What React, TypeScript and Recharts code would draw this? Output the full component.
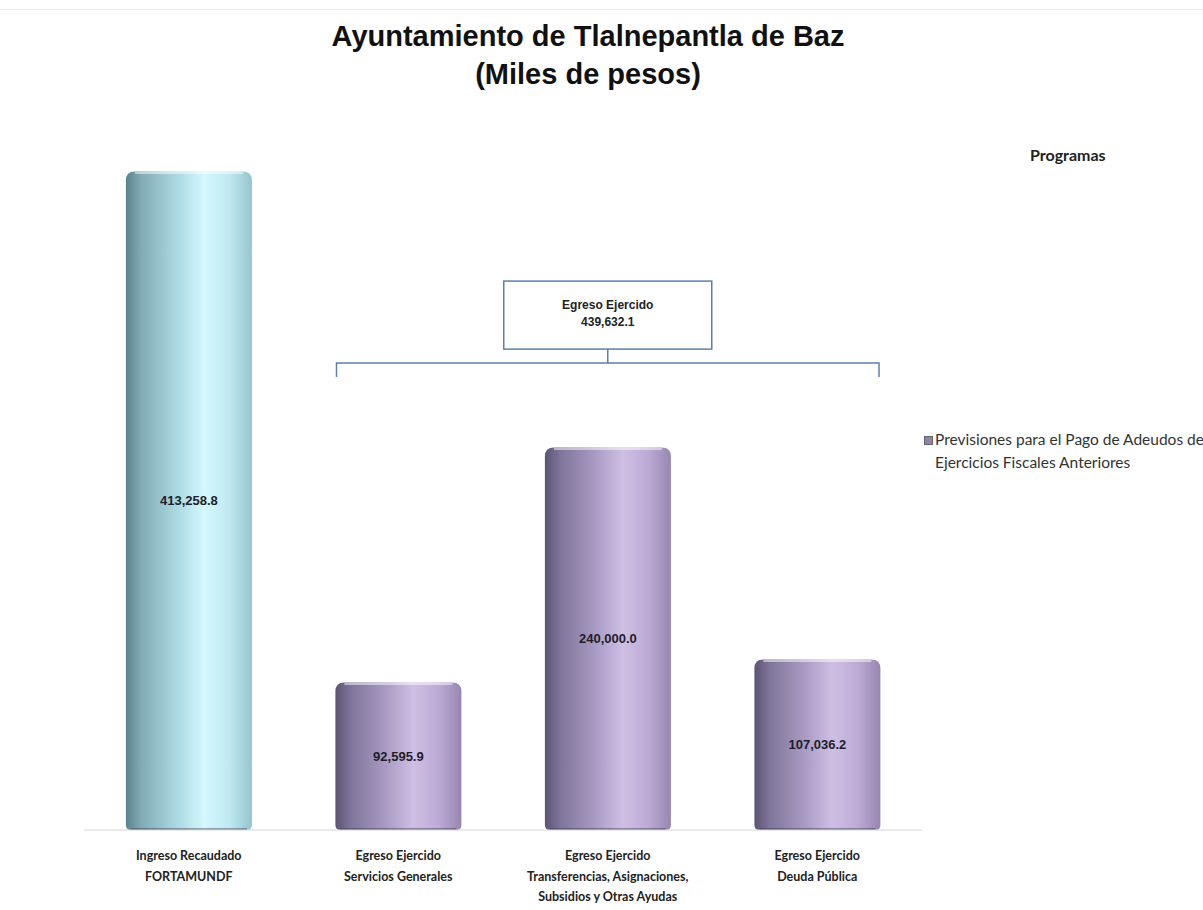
import { BarChart, Bar, XAxis, YAxis, Cell, LabelList, Legend, ReferenceArea } from "recharts";

const categories = [
  "Ingreso Recaudado\nFORTAMUNDF",
  "Egreso Ejercido\nServicios Generales",
  "Egreso Ejercido\nTransferencias, Asignaciones,\nSubsidios y Otras Ayudas",
  "Egreso Ejercido\nDeuda Pública",
];
const values = [413258.8, 92595.9, 240000.0, 107036.2];
const kinds = ["ingreso", "egreso", "egreso", "egreso"];

const seriesName = "Previsiones para el Pago de Adeudos de Ejercicios Fiscales Anteriores";
const legendTitle = "Programas";
const bracketTitle = "Egreso Ejercido";

const data = categories.map((name, i) => ({ name, value: values[i], kind: kinds[i] }));
const egresoTotal = values.filter((_, i) => kinds[i] === "egreso").reduce((a, b) => a + b, 0);

const fmt = (v: number) =>
  v.toLocaleString("en-US", { minimumFractionDigits: 1, maximumFractionDigits: 1 });

const narrow = "'Liberation Sans Narrow', 'Arial Narrow', 'Liberation Sans', Arial, sans-serif";

function Cylinder(props: any) {
  const { x, y, width, height, fill } = props;
  if (!height || height <= 0) return null;
  const r = 9;
  const rb = 5;
  const d = `M${x},${y + r} Q${x},${y} ${x + r},${y} L${x + width - r},${y} Q${x + width},${y} ${x + width},${y + r}
    L${x + width},${y + height - rb} Q${x + width},${y + height} ${x + width - rb},${y + height}
    L${x + rb},${y + height} Q${x},${y + height} ${x},${y + height - rb} Z`;
  return (
    <g>
      <path d={d} fill={fill} />
      <path
        d={`M${x + r},${y + 1.5} L${x + width - r},${y + 1.5}`}
        stroke="#ffffff"
        strokeOpacity={0.5}
        strokeWidth={2}
      />
      <path
        d={`M${x + rb},${y + height - 1} L${x + width - rb},${y + height - 1}`}
        stroke="#3c3850"
        strokeOpacity={0.45}
        strokeWidth={2}
      />
    </g>
  );
}

function MultiTick(props: any) {
  const { x, y, payload } = props;
  const lines = String(payload.value).split("\n");
  return (
    <text
      x={x}
      y={y}
      textAnchor="middle"
      fill="#222"
      fontFamily="Lato, 'Open Sans', sans-serif"
      fontWeight={700}
      fontSize={12.5}
    >
      {lines.map((l, i) => (
        <tspan key={i} x={x} dy={i === 0 ? 22 : 20.5}>
          {l}
        </tspan>
      ))}
    </text>
  );
}

function Bracket(props: any) {
  const { x, y, width } = props;
  const inset = 43;
  const left = x + inset;
  const right = x + width - inset;
  const mid = (left + right) / 2;
  const boxW = 208;
  const boxH = 68;
  const lineY = y + boxH + 14;
  const stroke = "#5b7fae";
  return (
    <g>
      <rect x={mid - boxW / 2} y={y} width={boxW} height={boxH} fill="#ffffff" stroke={stroke} strokeWidth={1.5} />
      <text x={mid} y={y + 28} textAnchor="middle" fontFamily={narrow} fontWeight={700} fontSize={12} fill="#222">
        {bracketTitle}
      </text>
      <text x={mid} y={y + 45} textAnchor="middle" fontFamily={narrow} fontWeight={700} fontSize={12} fill="#222">
        {fmt(egresoTotal)}
      </text>
      <path
        d={`M${mid},${y + boxH} L${mid},${lineY} M${left},${lineY + 14} L${left},${lineY} L${right},${lineY} L${right},${lineY + 14}`}
        fill="none"
        stroke={stroke}
        strokeWidth={1.5}
      />
    </g>
  );
}

function LegendBox(props: any) {
  const item = (props.payload || [])[0];
  return (
    <div style={{ fontFamily: "Lato, 'Open Sans', sans-serif", color: "#333", width: 283, textAlign: "left" }}>
      <div style={{ fontWeight: 700, fontSize: 16, marginLeft: 110, color: "#222" }}>{legendTitle}</div>
      <div style={{ position: "relative", marginTop: 264, paddingLeft: 15, fontSize: 15.5, lineHeight: "23px", whiteSpace: "nowrap" }}>
        <span
          style={{
            position: "absolute",
            left: 4,
            top: 8,
            width: 7,
            height: 7,
            background: "#8e84a8",
            border: "1px solid #666",
          }}
        />
        <div>Previsiones para el Pago de Adeudos de</div>
        <div>Ejercicios Fiscales Anteriores</div>
        <span style={{ display: "none" }}>{item ? item.value : ""}</span>
      </div>
    </div>
  );
}

export default function App() {
  return (
    <div style={{ position: "absolute", left: 0, top: 0, width: 1203, height: 910, background: "#fff", overflow: "hidden" }}>
      <div style={{ position: "absolute", left: 0, top: 9, width: 1203, height: 1, background: "#ececec" }} />
      <div
        style={{
          position: "absolute",
          left: 0,
          top: 17,
          width: 1176,
          textAlign: "center",
          fontFamily: "'Liberation Sans', Arial, sans-serif",
          fontWeight: 700,
          fontSize: 29,
          lineHeight: "38px",
          color: "#111",
        }}
      >
        <div>Ayuntamiento de Tlalnepantla de Baz</div>
        <div>(Miles de pesos)</div>
      </div>
      <BarChart
        width={1203}
        height={910}
        data={data}
        margin={{ top: 113, right: 281, bottom: 10, left: 84 }}
        barCategoryGap="20%"
      >
        <defs>
          <linearGradient id="tealGrad" x1="0" y1="0" x2="1" y2="0">
            <stop offset="0%" stopColor="#5a838c" />
            <stop offset="12%" stopColor="#80abb4" />
            <stop offset="40%" stopColor="#abd8e1" />
            <stop offset="62%" stopColor="#d3f8fd" />
            <stop offset="82%" stopColor="#c0e9f1" />
            <stop offset="100%" stopColor="#94c4ce" />
          </linearGradient>
          <linearGradient id="purpleGrad" x1="0" y1="0" x2="1" y2="0">
            <stop offset="0%" stopColor="#5c5373" />
            <stop offset="12%" stopColor="#7f7499" />
            <stop offset="40%" stopColor="#a99bc4" />
            <stop offset="62%" stopColor="#cfbfe4" />
            <stop offset="82%" stopColor="#bcaad5" />
            <stop offset="100%" stopColor="#9787b0" />
          </linearGradient>
        </defs>
        <XAxis
          dataKey="name"
          interval={0}
          tickLine={false}
          axisLine={{ stroke: "#d4d4d4" }}
          height={70}
          tick={<MultiTick />}
        />
        <YAxis hide domain={[0, 450000]} />
        <Legend
          layout="horizontal"
          verticalAlign="middle"
          align="center"
          content={<LegendBox />}
          wrapperStyle={{ position: "absolute", left: 920, top: 145, width: 283 }}
        />
        <ReferenceArea
          x1={categories[1]}
          x2={categories[3]}
          y1={284500}
          y2={344500}
          ifOverflow="visible"
          shape={<Bracket />}
        />
        <Bar dataKey="value" name={seriesName} fill="#8e84a8" shape={<Cylinder />} isAnimationActive={false}>
          {data.map((d, i) => (
            <Cell key={`c-${i}`} fill={d.kind === "ingreso" ? "url(#tealGrad)" : "url(#purpleGrad)"} />
          ))}
          <LabelList
            dataKey="value"
            position="center"
            formatter={(v: any) => fmt(Number(v))}
            style={{ fontFamily: narrow, fontWeight: 700, fontSize: 13, fill: "#1e1e2a" }}
          />
        </Bar>
      </BarChart>
    </div>
  );
}
